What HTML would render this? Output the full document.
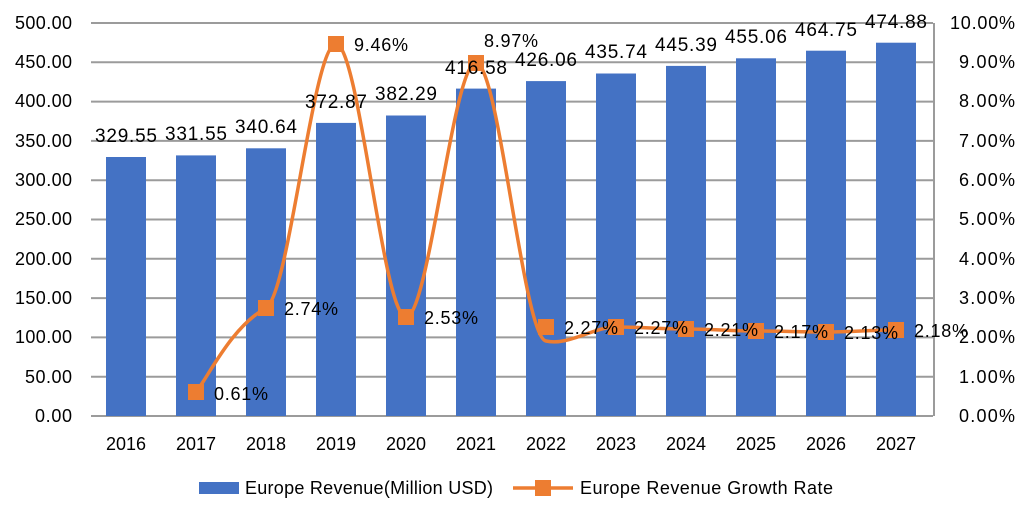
<!DOCTYPE html><html><head><style>body{margin:0;background:#fff}svg{font-family:"Liberation Sans",sans-serif}</style></head><body>
<svg width="1027" height="519" xmlns="http://www.w3.org/2000/svg">
<g stroke="#9b9b9b" stroke-width="2">
<line x1="91" x2="933" y1="23" y2="23"/><line x1="91" x2="933" y1="62.3" y2="62.3"/><line x1="91" x2="933" y1="101.6" y2="101.6"/><line x1="91" x2="933" y1="140.9" y2="140.9"/><line x1="91" x2="933" y1="180.2" y2="180.2"/><line x1="91" x2="933" y1="219.5" y2="219.5"/><line x1="91" x2="933" y1="258.8" y2="258.8"/><line x1="91" x2="933" y1="298.1" y2="298.1"/><line x1="91" x2="933" y1="337.4" y2="337.4"/><line x1="91" x2="933" y1="376.7" y2="376.7"/><line x1="91" x2="933" y1="416" y2="416"/>
<line x1="934" x2="934" y1="23" y2="416"/>
</g>
<g fill="#4472C4">
<rect x="106" y="157" width="40" height="259"/><rect x="176" y="155.4" width="40" height="260.6"/><rect x="246" y="148.3" width="40" height="267.7"/><rect x="316" y="122.9" width="40" height="293.1"/><rect x="386" y="115.5" width="40" height="300.5"/><rect x="456" y="88.6" width="40" height="327.4"/><rect x="526" y="81.1" width="40" height="334.9"/><rect x="596" y="73.5" width="40" height="342.5"/><rect x="666" y="65.9" width="40" height="350.1"/><rect x="736" y="58.3" width="40" height="357.7"/><rect x="806" y="50.7" width="40" height="365.3"/><rect x="876" y="42.7" width="40" height="373.3"/>
</g>
<path d="M196,392 C207.7,378 231,327 266,308 C289.3,295 313,44 336,44 C359,44 383,317 406,317 C429,317 453,63 476,63 C499,63 523,336 546,341 C569,346 593,327 616,327 C639,327 663,329 686,329 C709,329 733,331 756,331 C779,331 803,332 826,332 C849,332 873,330 896,330" fill="none" stroke="#ED7D31" stroke-width="3.5"/>
<g fill="#ED7D31"><rect x="188" y="384" width="16" height="16"/><rect x="258" y="300" width="16" height="16"/><rect x="328" y="36" width="16" height="16"/><rect x="398" y="309" width="16" height="16"/><rect x="468" y="55" width="16" height="16"/><rect x="538" y="319" width="16" height="16"/><rect x="608" y="319" width="16" height="16"/><rect x="678" y="321" width="16" height="16"/><rect x="748" y="323" width="16" height="16"/><rect x="818" y="324" width="16" height="16"/><rect x="888" y="322" width="16" height="16"/></g>
<g font-size="19" fill="#000" text-anchor="middle">
<text x="126" y="142" textLength="62">329.55</text><text x="196" y="140" textLength="62">331.55</text><text x="266" y="133" textLength="62">340.64</text><text x="336" y="108" textLength="62">372.87</text><text x="406" y="100" textLength="62">382.29</text><text x="476" y="74" textLength="62">416.58</text><text x="546" y="66" textLength="62">426.06</text><text x="616" y="58" textLength="62">435.74</text><text x="686" y="51" textLength="62">445.39</text><text x="756" y="43" textLength="62">455.06</text><text x="826" y="36" textLength="62">464.75</text><text x="896" y="28" textLength="62">474.88</text>
</g>
<g font-size="18" fill="#000">
<text x="214" y="400" textLength="54">0.61%</text><text x="284" y="315" textLength="54">2.74%</text><text x="354" y="51" textLength="54">9.46%</text><text x="424" y="324" textLength="54">2.53%</text><text x="484" y="47" textLength="54">8.97%</text><text x="564" y="334" textLength="54">2.27%</text><text x="634" y="334" textLength="54">2.27%</text><text x="704" y="336" textLength="54">2.21%</text><text x="774" y="338" textLength="54">2.17%</text><text x="844" y="339" textLength="54">2.13%</text><text x="914" y="337" textLength="54">2.18%</text>
</g>
<g font-size="18" fill="#000">
<text x="15" y="29" textLength="57">500.00</text><text x="15" y="68" textLength="57">450.00</text><text x="15" y="107" textLength="57">400.00</text><text x="15" y="147" textLength="57">350.00</text><text x="15" y="186" textLength="57">300.00</text><text x="15" y="225" textLength="57">250.00</text><text x="15" y="265" textLength="57">200.00</text><text x="15" y="304" textLength="57">150.00</text><text x="15" y="343" textLength="57">100.00</text><text x="25" y="383" textLength="47">50.00</text><text x="35" y="422" textLength="37">0.00</text>
</g>
<g font-size="18" fill="#000">
<text x="950" y="29" textLength="65">10.00%</text><text x="959" y="68" textLength="56">9.00%</text><text x="959" y="107" textLength="56">8.00%</text><text x="959" y="147" textLength="56">7.00%</text><text x="959" y="186" textLength="56">6.00%</text><text x="959" y="225" textLength="56">5.00%</text><text x="959" y="265" textLength="56">4.00%</text><text x="959" y="304" textLength="56">3.00%</text><text x="959" y="343" textLength="56">2.00%</text><text x="959" y="383" textLength="56">1.00%</text><text x="959" y="422" textLength="56">0.00%</text>
</g>
<g font-size="18" fill="#000" text-anchor="middle">
<text x="126" y="450" textLength="40">2016</text><text x="196" y="450" textLength="40">2017</text><text x="266" y="450" textLength="40">2018</text><text x="336" y="450" textLength="40">2019</text><text x="406" y="450" textLength="40">2020</text><text x="476" y="450" textLength="40">2021</text><text x="546" y="450" textLength="40">2022</text><text x="616" y="450" textLength="40">2023</text><text x="686" y="450" textLength="40">2024</text><text x="756" y="450" textLength="40">2025</text><text x="826" y="450" textLength="40">2026</text><text x="896" y="450" textLength="40">2027</text>
</g>
<rect x="199" y="482" width="40" height="12" fill="#4472C4"/>
<text x="245" y="494" font-size="18" textLength="248">Europe Revenue(Million USD)</text>
<line x1="513" x2="573" y1="488" y2="488" stroke="#ED7D31" stroke-width="3.5"/>
<rect x="535" y="480" width="16" height="16" fill="#ED7D31"/>
<text x="580" y="494" font-size="18" textLength="253">Europe Revenue Growth Rate</text>
</svg>
</body></html>
